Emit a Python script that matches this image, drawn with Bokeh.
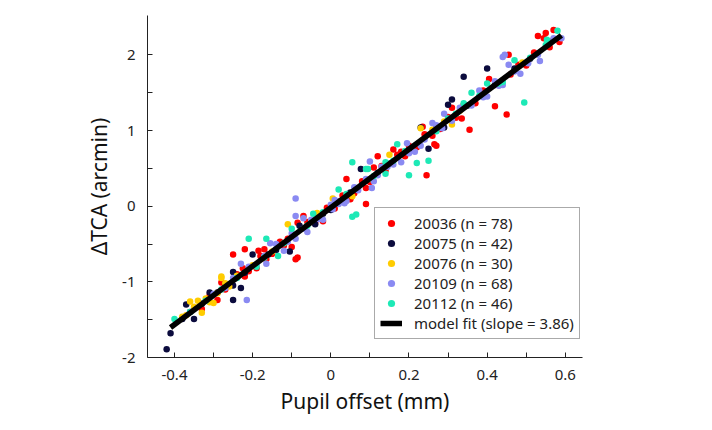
from bokeh.plotting import figure
from bokeh.models import Range1d, FixedTicker, Legend, LegendItem
from bokeh.embed import file_html
from bokeh.resources import INLINE

# ---------------- data ----------------
red_x = [-0.33, -0.29, -0.28, -0.25, -0.22, -0.225, -0.22, -0.17, -0.185, -0.165, -0.19, -0.09, -0.085,
         -0.11, -0.10, -0.07, -0.085, -0.02, 0.04, 0.09, 0.05, 0.09, 0.12, 0.16, 0.18, 0.27, 0.245, 0.11,
         0.235, 0.26, 0.405, 0.42, 0.45, 0.355, 0.31, 0.335, 0.265, 0.53, 0.545, 0.55, 0.57, 0.585, 0.455, 0.46,
         -0.31, -0.27, -0.24, -0.21, -0.18, -0.15, -0.13, -0.12, -0.06, -0.04, -0.01, 0.01, 0.03, 0.06, 0.08,
         0.10, 0.13, 0.14, 0.17, 0.19, 0.20, 0.22, 0.24, 0.28, 0.30, 0.32, 0.34, 0.37, 0.39, 0.43, 0.48, 0.50,
         0.52, 0.56]
red_y = [-1.36, -1.24, -1.01, -0.64, -0.57, -0.82, -0.93, -0.57, -0.59, -0.70, -0.82, -0.70, -0.68,
         -0.43, -0.54, -0.13, -0.22, -0.20, 0.36, 0.03, 0.09, 0.24, 0.66, 0.75, 0.72, 0.80, 0.41, 0.51,
         1.05, 0.93, 1.68, 1.32, 1.21, 1.01, 1.30, 1.16, 0.82, 2.25, 2.22, 2.29, 2.33, 2.17, 2.00, 1.74,
         -1.18, -1.10, -0.90, -0.86, -0.66, -0.63, -0.47, -0.52, -0.21, -0.22, -0.02, -0.03, 0.14, 0.17, 0.33,
         0.32, 0.53, 0.47, 0.68, 0.66, 0.80, 0.78, 0.95, 1.02, 1.18, 1.17, 1.34, 1.36, 1.53, 1.60, 1.87, 1.86,
         2.03, 2.10]

navy_x = [-0.42, -0.41, -0.35, -0.37, -0.25, -0.31, -0.25, -0.25, -0.23, -0.20, -0.105, 0.077, -0.04,
          0.0, 0.23, 0.25, 0.34, 0.40, 0.30, 0.31, 0.29,
          -0.38, -0.36, -0.33, -0.29, -0.27, -0.22, -0.16, -0.14, -0.08, -0.02, 0.02, 0.05, 0.12, 0.15,
          0.20, 0.27, 0.35, 0.42, 0.47, 0.51, 0.57]
navy_y = [-1.89, -1.68, -1.49, -1.30, -1.24, -1.14, -0.87, -1.05, -1.08, -0.64, -0.60, 0.49, -0.24,
          -0.05, 1.04, 0.76, 1.71, 1.82, 1.34, 1.41, 1.04,
          -1.49, -1.40, -1.29, -1.14, -1.03, -0.88, -0.64, -0.58, -0.26, -0.10, 0.06, 0.18, 0.44, 0.56,
          0.74, 1.04, 1.33, 1.60, 1.82, 1.95, 2.20]

yellow_x = [-0.36, -0.34, -0.33, -0.28, -0.30, -0.28, -0.11, 0.005, 0.055, -0.035, 0.15, 0.23, 0.31, 0.29,
            -0.38, -0.37, -0.35, -0.32, -0.31, -0.29, -0.27, -0.26, -0.24, -0.20, -0.15, -0.05, 0.10, 0.26,
            0.33, 0.49]
yellow_y = [-1.26, -1.25, -1.41, -0.95, -1.28, -0.93, -0.24, 0.10, 0.13, -0.09, 0.68, 1.03, 1.08, 1.12,
            -1.46, -1.44, -1.33, -1.22, -1.27, -1.15, -1.02, -1.06, -0.92, -0.78, -0.60, -0.20, 0.36, 1.01,
            1.26, 1.90]

lav_x = [-0.23, -0.165, -0.12, -0.155, -0.09, -0.09, -0.215, -0.09, -0.07, -0.06, -0.02, 0.005, 0.035,
         0.01, 0.10, 0.18, 0.215, 0.23, 0.26, 0.11, 0.145, 0.38, 0.40, 0.43, 0.44, 0.455, 0.29, 0.285, 0.59,
         0.445, 0.505, 0.535, 0.485, 0.44, 0.195, 0.105, 0.04,
         -0.30, -0.27, -0.25, -0.21, -0.19, -0.17, -0.14, -0.11, -0.10, -0.07, -0.05, -0.03, 0.00, 0.02,
         0.06, 0.07, 0.09, 0.12, 0.13, 0.16, 0.20, 0.24, 0.27, 0.31, 0.33, 0.36, 0.39, 0.42, 0.47, 0.53, 0.57]
lav_y = [-0.76, -0.76, -0.59, -0.49, -0.13, -0.43, -1.24, 0.10, -0.16, -0.34, -0.18, -0.04, 0.04,
         0.08, 0.59, 0.58, 0.72, 0.80, 1.10, 0.33, 0.52, 1.53, 1.45, 1.59, 1.97, 1.87, 1.22, 1.03, 2.22,
         2.00, 1.89, 1.92, 1.75, 1.60, 0.83, 0.24, 0.07,
         -1.16, -1.08, -0.95, -0.80, -0.77, -0.66, -0.50, -0.47, -0.36, -0.30, -0.18, -0.17, 0.02, 0.03,
         0.25, 0.21, 0.36, 0.41, 0.52, 0.55, 0.70, 0.88, 1.07, 1.13, 1.30, 1.33, 1.44, 1.65, 1.78, 2.00, 2.22]

cyan_x = [-0.40, -0.21, -0.165, -0.135, -0.19, -0.10, 0.055, 0.02, 0.065, 0.055, -0.045, -0.06, 0.09,
          0.17, 0.22, 0.25, 0.20, 0.095, 0.14, 0.14, 0.36, 0.40, 0.34, 0.32, 0.27, 0.58, 0.553, 0.47, 0.44,
          0.495,
          -0.36, -0.32, -0.28, -0.24, -0.17, -0.12, -0.02, 0.04, 0.11, 0.16, 0.19, 0.30, 0.38, 0.43, 0.51, 0.55]
cyan_y = [-1.49, -0.43, -0.43, -0.66, -0.80, -0.30, 0.58, 0.22, -0.11, -0.14, -0.10, -0.26, 0.49,
          0.82, 0.57, 0.60, 0.41, 0.49, 0.58, 0.43, 1.50, 1.62, 1.36, 1.22, 0.99, 2.32, 2.20, 1.93, 1.64,
          1.37,
          -1.40, -1.25, -1.10, -0.95, -0.68, -0.49, -0.08, 0.16, 0.40, 0.60, 0.73, 1.16, 1.46, 1.62, 1.96, 2.13]

series_names = ["20036 (n = 78)", "20075 (n = 42)", "20076 (n = 30)", "20109 (n = 68)", "20112 (n = 46)"]
series_colors = ["#ff0000", "#0b0b3d", "#ffcc00", "#8a8af2", "#1de9b6"]

fit_slope = 3.86
fit_intercept = -0.02
fit_x = [-0.41, 0.59]
fit_label = "model fit (slope = 3.86)"

x_ticks = [-0.4, -0.3, -0.2, -0.1, 0.0, 0.1, 0.2, 0.3, 0.4, 0.5, 0.6]
x_tick_labels = ["-0.4", "", "-0.2", "", "0", "", "0.2", "", "0.4", "", "0.6"]
y_ticks = [-2, -1.5, -1, -0.5, 0, 0.5, 1, 1.5, 2]
y_tick_labels = ["-2", "", "-1", "", "0", "", "1", "", "2"]

FONT = "Noto Sans"

# ---------------- figure ----------------
p = figure(width=704, height=422, output_backend="svg", toolbar_location=None,
           x_range=Range1d(-0.469, 0.644), y_range=Range1d(-2, 2.52),
           min_border_left=147, min_border_right=122, min_border_top=15, min_border_bottom=65)
p.outline_line_color = None
p.xgrid.visible = False
p.ygrid.visible = False
p.background_fill_color = "white"

xs = [red_x, navy_x, yellow_x, lav_x, cyan_x]
ys = [red_y, navy_y, yellow_y, lav_y, cyan_y]
items = []
for sx, sy, name, col in zip(xs, ys, series_names, series_colors):
    r = p.scatter(sx, sy, size=6.5, color=col, line_color=None)
    items.append(LegendItem(label=name, renderers=[r]))

fit_y = [fit_slope * v + fit_intercept for v in fit_x]
lr = p.line(fit_x, fit_y, line_width=5.5, color="black")
items.append(LegendItem(label=fit_label, renderers=[lr]))

for ax, ticks, labels in ((p.xaxis[0], x_ticks, x_tick_labels), (p.yaxis[0], y_ticks, y_tick_labels)):
    ax.ticker = FixedTicker(ticks=ticks)
    ax.major_label_overrides = {t: l for t, l in zip(ticks, labels)}
    ax.major_tick_in = 5
    ax.major_tick_out = 0
    ax.minor_tick_in = 0
    ax.minor_tick_out = 0
    ax.axis_line_color = "#222222"
    ax.major_tick_line_color = "#222222"
    ax.major_label_text_font = FONT
    ax.major_label_text_font_size = "15px"
    ax.major_label_text_color = "#222222"
    ax.axis_label_text_font = FONT
    ax.axis_label_text_font_size = "21px"
    ax.axis_label_text_font_style = "normal"
    ax.axis_label_text_color = "#111111"

p.xaxis.axis_label = "Pupil offset (mm)"
p.yaxis.axis_label = "\u0394TCA (arcmin)"
p.xaxis.major_label_standoff = 12
p.xaxis.axis_label_standoff = 4
p.yaxis.major_label_standoff = 12
p.yaxis.axis_label_standoff = 6

legend = Legend(items=items, location=(227, 18))
legend.label_text_font = FONT
legend.label_text_font_size = "15px"
legend.label_text_color = "#222222"
legend.glyph_width = 22
legend.glyph_height = 18
legend.label_height = 18
legend.spacing = -3
legend.padding = 5
legend.margin = 0
legend.label_standoff = 12
legend.border_line_color = "#555555"
legend.border_line_width = 1
legend.background_fill_color = "white"
legend.background_fill_alpha = 1.0
p.add_layout(legend, "center")

open("out.html", "w").write(file_html(p, INLINE))
